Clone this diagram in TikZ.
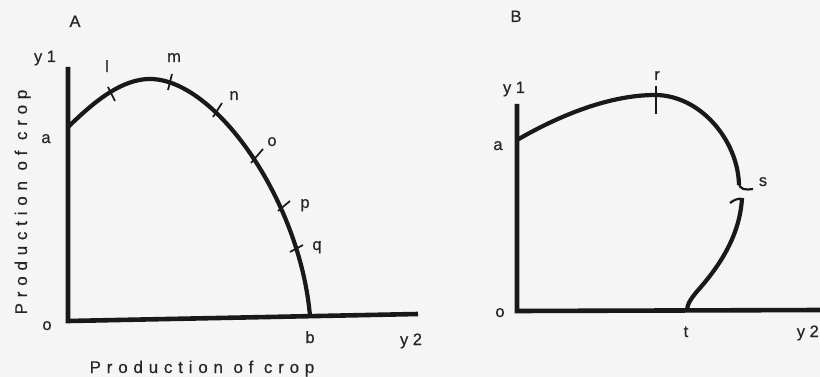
\documentclass[tikz,border=0pt]{standalone}
\usepackage{fontspec}
\setmainfont{Liberation Sans}
\newfontfamily\labfont[FakeBold=0.5]{Liberation Sans}
\newfontfamily\spacedfont[LetterSpace=34,FakeBold=0.5]{Liberation Sans}
\begin{document}
\begin{tikzpicture}[x=1pt,y=-1pt,
  axis/.style={line width=4.6pt,draw=black!90,line join=miter},
  curve/.style={line width=4.2pt,draw=black!90},
  tail/.style={line width=2.2pt,draw=black!90},
  tickmark/.style={line width=1.7pt,draw=black!90},
  lab/.style={anchor=base,inner sep=0pt,text=black!85,font=\fontsize{16.5}{16.5}\labfont},
  ttl/.style={anchor=base,inner sep=0pt,text=black!85,font=\fontsize{17}{17}\spacedfont}]
\useasboundingbox (0,0) rectangle (820,377);
\fill[black!4] (0,0) rectangle (820,377);
% ---------- Panel A ----------
\coordinate (Atop) at (68,67);
\coordinate (Ao) at (68,321);
\coordinate (Aend) at (418,314);
\draw[axis] (Atop) -- (Ao) -- (Aend);
\draw[curve] (68,127) .. controls (88,108) and (118,79) .. (150,79)
  .. controls (215,79) and (300,200) .. (310,316);
\draw[tickmark] (108,87) -- (115,101);
\draw[tickmark] (172,74) -- (168,90);
\draw[tickmark] (222,103) -- (213,117);
\draw[tickmark] (263,149) -- (251,163);
\draw[tickmark] (290,201) -- (278,211);
\draw[tickmark] (303,245) -- (290,252);
\node[lab] (lA) at (75,27) {A};
\node[lab] (lAy1) at (45,62) {y 1};
\node[lab] (ll) at (107,72) {l};
\node[lab] (lm) at (174,62) {m};
\node[lab] (ln) at (234,100) {n};
\node[lab] (lo) at (272,146) {o};
\node[lab] (lp) at (305,208) {p};
\node[lab] (lq) at (317,250) {q};
\node[lab] (laA) at (46,143) {a};
\node[lab] (loA) at (47,330) {o};
\node[lab] (lb) at (310,343) {b};
\node[lab] (lAy2) at (411,345) {y 2};
\node[ttl] (xt) at (202,373) {Production of crop};
\node[ttl,rotate=90] (yt) at (27,202) {Production of crop};
% ---------- Panel B ----------
\coordinate (Btop) at (517,104);
\coordinate (Bo) at (517,311);
\coordinate (Bend) at (822,310);
\draw[axis] (Btop) -- (Bo) -- (Bend);
\draw[curve] (517,140) .. controls (560,115) and (610,95) .. (655,95)
  .. controls (700,95) and (738,140) .. (739,185);
\draw[tail] (739,183) .. controls (740,190) and (745,190) .. (753,189);
\draw[tail] (730,203) .. controls (734,200) and (738,198) .. (742,199);
\draw[curve] (742,198) .. controls (740,235) and (720,265) .. (700,288)
  .. controls (690,299) and (687,305) .. (687,311);
\draw[tickmark] (656,86) -- (656,114);
\node[lab] (lB) at (516,22) {B};
\node[lab] (lBy1) at (514,93) {y 1};
\node[lab] (lr) at (657,80) {r};
\node[lab] (laB) at (498,150) {a};
\node[lab] (ls) at (763,186) {s};
\node[lab] (loB) at (500,317) {o};
\node[lab] (lt) at (686,337) {t};
\node[lab,anchor=base east] (lBy2) at (819,337) {y 2};
\end{tikzpicture}
\end{document}
